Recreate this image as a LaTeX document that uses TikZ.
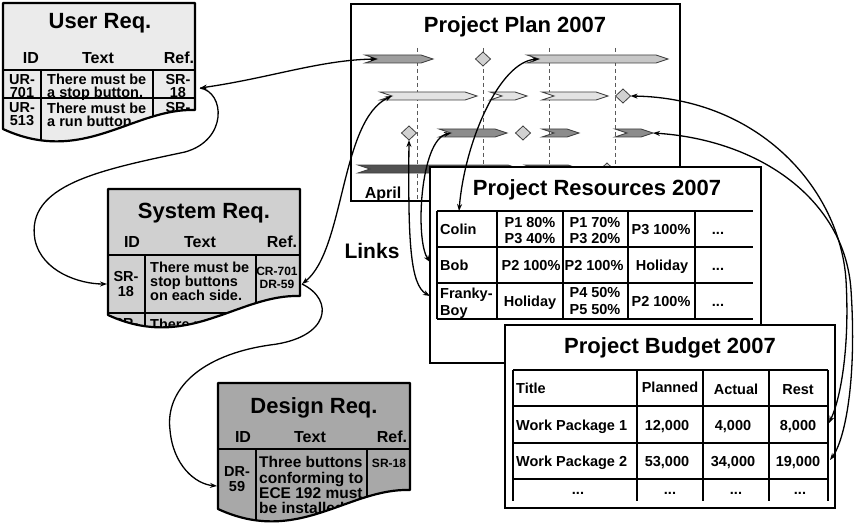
\documentclass[tikz,border=0pt]{standalone}
\usepackage{fontspec}
\setmainfont{Liberation Sans}
\usetikzlibrary{arrows.meta}
\lineskiplimit=-50pt
\lineskip=0pt

\definecolor{userfill}{RGB}{235,235,235}
\definecolor{sysfill}{RGB}{208,208,208}
\definecolor{desfill}{RGB}{168,168,168}

% bold text at a given size and line pitch
\newcommand\txtsize[2]{\fontsize{#1}{#2}\selectfont\bfseries}

% outline of a requirement sheet with a wavy lower edge (local coordinates)
\newcommand\reqshape{(0,0) -- (192,0) -- (192,107) .. controls (130,105) and (80,163) .. (0,126) -- cycle}

% schedule bar: name, left x, right x, y, fill
\newcommand\planbar[5]{%
  \draw[barline, fill=#5] (#2,#4-4) -- (#3-12,#4-4) -- (#3,#4) -- (#3-12,#4+4) -- (#2,#4+4) -- (#2+12,#4) -- cycle;
  \coordinate (#1) at (#2+12,#4);
  \coordinate (#1e) at (#3,#4);}

% milestone: name, x, y
\newcommand\plandia[3]{%
  \draw[barline, fill=black!18] (#2-7.5,#3) -- (#2,#3-7) -- (#2+7.5,#3) -- (#2,#3+7) -- cycle;
  \coordinate (#1) at (#2,#3+7);
  \coordinate (#1e) at (#2+7.5,#3);}

\begin{document}
\begin{tikzpicture}[x=1pt,y=-1pt,
  box/.style={draw=black, line width=2.4pt, fill=white},
  grid/.style={line width=1.6pt},
  docline/.style={draw=black, line width=2.2pt, line join=round},
  barline/.style={draw=black!75, line width=0.8pt, line join=miter},
  timeline/.style={draw=black!65, line width=1pt, dash pattern=on 4pt off 3pt},
  link/.style={line width=1.3pt, >={Stealth[length=7pt,width=5pt]}},
  ttl/.style={font=\txtsize{22}{24}, anchor=base, inner sep=0},
  hd/.style={font=\txtsize{16}{18}, anchor=base, inner sep=0},
  cellC/.style={font=\txtsize{14.5}{16}, anchor=base, inner sep=0},
  cellL/.style={font=\txtsize{14.5}{16}, anchor=base west, inner sep=0},
  cellN/.style={font=\txtsize{14.5}{16.5}, anchor=north, align=center, inner sep=0},
  reqC/.style={font=\txtsize{14.5}{#1}, anchor=north, align=center, inner sep=0},
  reqL/.style={font=\txtsize{14.5}{#1}, anchor=north west, align=left, inner sep=0},
  refC/.style={font=\txtsize{12}{13}, anchor=north, align=center, inner sep=0},
]
\useasboundingbox (0,0) rectangle (854,524);

% ---------------- project plan ----------------
\draw[box] (351,4) rectangle (680,201);
\node[ttl] (plantitle) at (515,33) {Project Plan 2007};
\foreach \x in {417,483,549,615} \draw[timeline] (\x,48) -- (\x,200);

\planbar{b11}{365}{433}{59}{black!38}
\plandia{d12}{483}{59}
\planbar{b13}{527}{668}{59}{black!22}

\planbar{b21}{380}{477}{96}{black!11}
\planbar{b22}{490}{527}{96}{black!11}
\planbar{b23}{542}{608}{96}{black!11}
\plandia{d24}{623}{96}

\plandia{d31}{409}{133}
\planbar{b32}{439}{507}{133}{black!45}
\plandia{d33}{523}{133}
\planbar{b34}{542}{579}{133}{black!45}
\planbar{b35}{615}{653}{133}{black!45}

\planbar{b41}{358}{520}{169}{black!68}
\planbar{b42}{525}{580}{169}{black!68}
\plandia{d43}{607}{170}

\node[font=\txtsize{16}{18}, anchor=base, inner sep=0] (april) at (383,198) {April};

% ---------------- project resources ----------------
\draw[box] (430,167) rectangle (761,363);
\node[ttl] (restitle) at (597,195) {Project Resources 2007};
\foreach \y in {211,247,283,319} \draw[grid] (437,\y) -- (753,\y);
\foreach \x in {437,497,563,628,695} \draw[grid] (\x,211) -- (\x,319);

\node[cellL] (colin) at (440,234.2) {Colin};
\node[cellN] (r12) at (530,216.9) {P1 80\%\\P3 40\%};
\node[cellN] (r13) at (595,216.9) {P1 70\%\\P3 20\%};
\node[cellC] (r14) at (661,234.2) {P3 100\%};
\node[cellC] (r15) at (718,234.2) {...};

\node[cellL] (bob) at (440,270.2) {Bob};
\node[cellC] (r22) at (531,270.2) {P2 100\%};
\node[cellC] (r23) at (594,270.2) {P2 100\%};
\node[cellC] (r24) at (662,270.2) {Holiday};
\node[cellC] (r25) at (718,270.2) {...};

\node[font=\txtsize{14.5}{17}, anchor=north west, align=left, inner sep=0] (franky) at (440,287.6) {Franky-\\Boy};
\node[cellC] (r32) at (530,306.2) {Holiday};
\node[font=\txtsize{14.5}{17}, anchor=north, align=center, inner sep=0] (r33) at (595,287.6) {P4 50\%\\P5 50\%};
\node[cellC] (r34) at (661,306.2) {P2 100\%};
\node[cellC] (r35) at (718,306.2) {...};

\coordinate (colinin) at (459,211);
\coordinate (bobin) at (430,262);
\coordinate (frankyin) at (430,296);

% ---------------- project budget ----------------
\draw[box] (505,325) rectangle (835,508);
\node[ttl] (budtitle) at (670,353) {Project Budget 2007};
\foreach \y in {370,406,443,479} \draw[grid] (513,\y) -- (828,\y);
\foreach \x in {513,637,703,769,828} \draw[grid] (\x,370) -- (\x,501);

\node[cellL] (bh1) at (516,393.2) {Title};
\node[cellC] (bh2) at (670,392.2) {Planned};
\node[cellC] (bh3) at (736,394.2) {Actual};
\node[cellC] (bh4) at (798,394.2) {Rest};

\node[cellL] (wpa) at (516,430.2) {Work Package 1};
\node[cellC] (wpa2) at (667,430.2) {12,000};
\node[cellC] (wpa3) at (733,430.2) {4,000};
\node[cellC] (wpa4) at (798,430.2) {8,000};

\node[cellL] (wpb) at (516,466.9) {Work Package 2};
\node[cellC] (wpb2) at (667,466.9) {53,000};
\node[cellC] (wpb3) at (733,466.9) {34,000};
\node[cellC] (wpb4) at (798,466.9) {19,000};

\node[cellC] (bd1) at (578,494) {...};
\node[cellC] (bd2) at (670,494) {...};
\node[cellC] (bd3) at (736,494) {...};
\node[cellC] (bd4) at (800,494) {...};

\coordinate (wp1in) at (829,423);
\coordinate (wp2in) at (830,460);

% ---------------- user requirements ----------------
\begin{scope}[shift={(3,3)}]
  \fill[userfill] \reqshape;
  \begin{scope}
    \clip \reqshape;
    \draw[grid] (0,67) -- (192,67);
    \draw[grid] (0,95) -- (192,95);
    \draw[grid] (38,67) -- (38,200);
    \draw[grid] (150,67) -- (150,200);
    \node[reqC=13] (ur1) at (19,71.2) {UR-\\701};
    \node[reqL=13] (ur1t) at (44,71.2) {There must be\\a stop button.};
    \node[reqC=13] (ur1r) at (175,71.2) {SR-\\18};
    \node[reqC=13] (ur2) at (19,99.6) {UR-\\513};
    \node[reqL=13] (ur2t) at (44,99.6) {There must be\\a run button.};
    \node[reqC=13] (ur2r) at (175,99.6) {SR-};
  \end{scope}
  \draw[docline] \reqshape;
  \node[ttl] (usertitle) at (97,26) {User Req.};
  \node[hd] (uh1) at (28,60.8) {ID};
  \node[hd] (uh2) at (95,60.8) {Text};
  \node[hd] (uh3) at (176,60.8) {Ref.};
  \coordinate (userref) at (197,85);
\end{scope}

% ---------------- system requirements ----------------
\begin{scope}[shift={(108,189)}]
  \fill[sysfill] \reqshape;
  \begin{scope}
    \clip \reqshape;
    \draw[grid] (0,66) -- (192,66);
    \draw[grid] (0,124) -- (192,124);
    \draw[grid] (37,66) -- (37,200);
    \draw[grid] (148,66) -- (148,200);
    \node[reqC=14.5] (sr1) at (18,82.6) {SR-\\18};
    \node[reqL=14.3] (sr1t) at (42,72.6) {There must be\\stop buttons\\on each side.};
    \node[refC] (sr1r) at (169,77.6) {CR-701\\DR-59};
    \node[reqC=14.5] (sr2) at (18,129.6) {SR-};
    \node[reqL=14.3] (sr2t) at (42,129.6) {There must be};
  \end{scope}
  \draw[docline] \reqshape;
  \node[ttl] (systitle) at (96,29) {System Req.};
  \node[hd] (sh1) at (24,58.8) {ID};
  \node[hd] (sh2) at (92,58.8) {Text};
  \node[hd] (sh3) at (174,58.8) {Ref.};
  \coordinate (sysid) at (-1,95);
  \coordinate (sysref) at (194,95);
\end{scope}

% ---------------- design requirements ----------------
\begin{scope}[shift={(218,383)}]
  \fill[desfill] \reqshape;
  \begin{scope}
    \clip \reqshape;
    \draw[grid] (0,66) -- (192,66);
    \draw[grid] (38,66) -- (38,200);
    \draw[grid] (149,66) -- (149,200);
    \node[reqC=15] (dr1) at (19,83.3) {DR-\\59};
    \node[font=\txtsize{15.5}{15.4}, anchor=north west, align=left, inner sep=0] (dr1t) at (41,73.3) {Three buttons\\conforming to\\ECE 192 must\\be installed.};
    \node[font=\txtsize{12}{13}, anchor=base, inner sep=0] (dr1r) at (171,84.3) {SR-18};
  \end{scope}
  \draw[docline] \reqshape;
  \node[ttl] (destitle) at (96,30) {Design Req.};
  \node[hd] (dh1) at (25,59.8) {ID};
  \node[hd] (dh2) at (92,59.8) {Text};
  \node[hd] (dh3) at (174,59.8) {Ref.};
  \coordinate (desid) at (-1,103);
\end{scope}

\node[font=\txtsize{21}{23}, anchor=base, inner sep=0] (links) at (372,258) {Links};

% ---------------- links ----------------
\draw[link,<->] (userref) .. controls (270,78) and (320,60) .. (b11);
\draw[link,->] (userref) .. controls (225,92) and (228,140) .. (185,152)
  .. controls (100,170) and (25,185) .. (35,240)
  .. controls (42,272) and (80,284) .. (sysid);
\draw[link,<->] (sysref) .. controls (345,250) and (340,120) .. (b21);
\draw[link,->] (sysref) .. controls (335,300) and (330,338) .. (270,345)
  .. controls (200,355) and (165,390) .. (170,430)
  .. controls (173,465) and (195,484) .. (desid);
\draw[link,<->] (d31) .. controls (408,240) and (410,285) .. (frankyin);
\draw[link,<->] (b32) .. controls (420,140) and (415,240) .. (bobin);
\draw[link,<->] (b13) .. controls (500,62) and (465,140) .. (colinin);
\draw[link,<->] (d24e) .. controls (760,98) and (840,190) .. (846,280)
  .. controls (850,350) and (840,400) .. (wp1in);
\draw[link,<->] (b35e) .. controls (760,140) and (845,200) .. (851,290)
  .. controls (857,380) and (845,440) .. (wp2in);
\end{tikzpicture}
\end{document}
